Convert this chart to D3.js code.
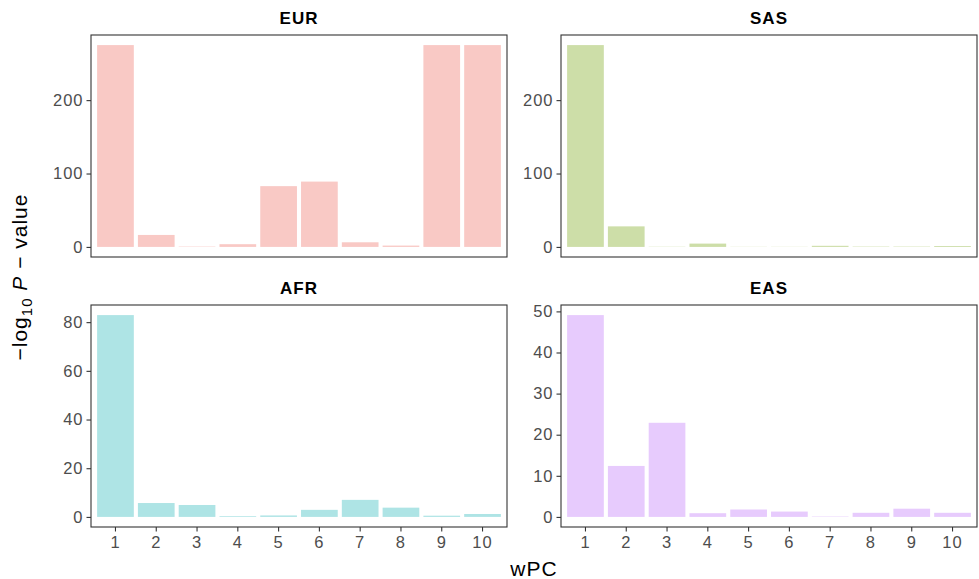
<!DOCTYPE html>
<html>
<head>
<meta charset="utf-8">
<script src="https://d3js.org/d3.v7.min.js"></script>
<style>
  body { margin: 0; background: #fff; }
  svg { display: block; font-family: "Liberation Sans", Arial, Helvetica, sans-serif; }
  .tick text { fill: #4d4d4d; font-size: 16.5px; letter-spacing: 1px; }
  .tick line { stroke: #333; }
  .domain { display: none; }
</style>
</head>
<body>
<svg id="chart" width="979" height="579"></svg>
<script>
// wPC categories shared by all panels
const wpc = ["1", "2", "3", "4", "5", "6", "7", "8", "9", "10"];

// -log10 P values per population
const eurValues = [275, 16.3, 0.5, 3.7, 82.8, 89, 6.3, 1.8, 275, 275];
const sasValues = [275, 28, 0.3, 4.5, 0.2, 0.2, 1.5, 0.5, 0.5, 1.2];
const afrValues = [82.9, 5.7, 4.9, 0.3, 0.6, 2.9, 7.0, 3.8, 0.5, 1.2];
const easValues = [49.1, 12.4, 22.9, 0.9, 1.8, 1.3, 0.1, 1.0, 2.0, 1.0];

// y tick labels per panel
const eurTicks = [0, 100, 200];
const sasTicks = [0, 100, 200];
const afrTicks = [0, 20, 40, 60, 80];
const easTicks = [0, 10, 20, 30, 40, 50];

const panels = [
  { name: "EUR", values: eurValues, ticks: eurTicks, color: "#f9c9c5", col: 0, row: 0 },
  { name: "SAS", values: sasValues, ticks: sasTicks, color: "#cddea8", col: 1, row: 0 },
  { name: "AFR", values: afrValues, ticks: afrTicks, color: "#aee4e5", col: 0, row: 1 },
  { name: "EAS", values: easValues, ticks: easTicks, color: "#e7cbfd", col: 1, row: 1 }
];

const svg = d3.select("#chart");

// panel geometry
const colX = [91, 561], panelW = 416;
const rowY = [35, 305], panelH = 222;

panels.forEach(p => {
  const x0 = colX[p.col], y0 = rowY[p.row];
  const g = svg.append("g").attr("transform", `translate(${x0},${y0})`);

  const x = d3.scaleBand()
    .domain(wpc)
    .range([0, panelW])
    .paddingInner(0.1)
    .paddingOuter(0.15);

  const maxV = d3.max(p.values);
  const y = d3.scaleLinear()
    .domain([-0.05 * maxV, maxV * 1.05])
    .range([panelH, 0]);

  // bars
  g.selectAll(".bar")
    .data(p.values)
    .enter().append("rect")
    .attr("class", "bar")
    .attr("x", (d, i) => x(wpc[i]))
    .attr("width", x.bandwidth())
    .attr("y", d => y(d))
    .attr("height", d => y(0) - y(d))
    .attr("fill", p.color);

  // y axis
  g.append("g")
    .call(d3.axisLeft(y).tickValues(p.ticks).tickSize(4.5).tickPadding(3))
    .selectAll(".tick line").attr("stroke-width", 1.1);

  // x axis only on bottom row
  if (p.row === 1) {
    const xa = g.append("g")
      .attr("transform", `translate(0,${panelH})`)
      .call(d3.axisBottom(x).tickSize(4.5).tickPadding(5));
    xa.selectAll(".tick line").attr("stroke-width", 1.1);
  }

  // panel border
  g.append("rect")
    .attr("x", 0).attr("y", 0)
    .attr("width", panelW).attr("height", panelH)
    .attr("fill", "none")
    .attr("stroke", "#333")
    .attr("stroke-width", 1.1);

  // strip title
  g.append("text")
    .attr("x", panelW / 2)
    .attr("y", -11)
    .attr("text-anchor", "middle")
    .attr("font-size", "17px")
    .attr("letter-spacing", "1px")
    .attr("font-weight", "bold")
    .attr("fill", "#000")
    .text(p.name);
});

// x axis title
svg.append("text")
  .attr("x", (colX[0] + colX[1] + panelW) / 2)
  .attr("y", 576)
  .attr("text-anchor", "middle")
  .attr("font-size", "21px")
  .attr("letter-spacing", "1px")
  .attr("fill", "#000")
  .text("wPC");

// y axis title
const yt = svg.append("text")
  .attr("transform", `translate(27,${(rowY[0] + rowY[1] + panelH) / 2 - 4}) rotate(-90)`)
  .attr("text-anchor", "middle")
  .attr("font-size", "21px")
  .attr("letter-spacing", "1px")
  .attr("fill", "#000");
yt.append("tspan").text("\u2212log");
yt.append("tspan").attr("font-size", "15px").attr("dy", 5).text("10");
yt.append("tspan").attr("dy", -5).attr("font-style", "italic").text(" P");
yt.append("tspan").text(" \u2212 value");
</script>
</body>
</html>
